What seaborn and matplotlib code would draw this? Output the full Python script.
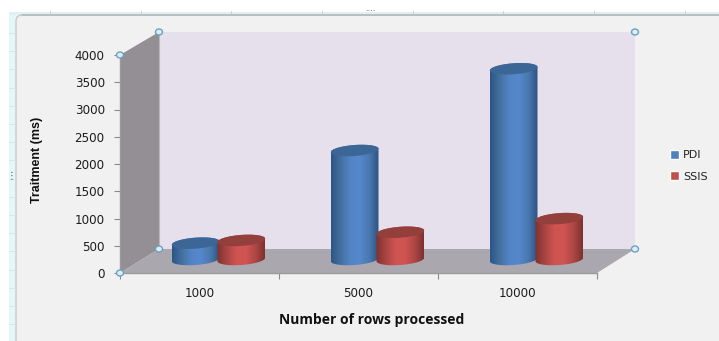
import matplotlib
matplotlib.use("Agg")
import matplotlib.pyplot as plt
import numpy as np
import pandas as pd
import seaborn as sns
from matplotlib.colors import LinearSegmentedColormap
from matplotlib.patches import FancyBboxPatch, Polygon, Ellipse, Rectangle

# Measurements
row_counts = ["1000", "5000", "10000"]
pdi_ms = [300, 2000, 3500]
ssis_ms = [350, 500, 750]
y_ticks = [0, 500, 1000, 1500, 2000, 2500, 3000, 3500, 4000]

W, H = 719, 341
BLUE = "#4f81bd"
RED = "#c0504d"
sns.set_theme(style="white", rc={"axes.grid": False})
plt.rcParams["font.family"] = ["DejaVu Sans"]

df = pd.DataFrame({
    "rows": row_counts * 2,
    "tool": ["PDI"] * 3 + ["SSIS"] * 3,
    "ms": pdi_ms + ssis_ms,
})

fig = plt.figure(figsize=(W / 100, H / 100), dpi=100, facecolor="white")


def axes_px(x0, y_top, x1, y_bottom, **kw):
    return fig.add_axes([x0 / W, 1 - y_bottom / H, (x1 - x0) / W, (y_bottom - y_top) / H], **kw)


# Worksheet backdrop and the 3D box walls, laid out in pixel units
bg = axes_px(0, 0, W, H, zorder=0)
bg.set_xlim(0, W)
bg.set_ylim(H, 0)
bg.axis("off")
bg.add_patch(Rectangle((9, 13), 8, H, fc="#e3f6fa", ec="none"))
bg.add_patch(Rectangle((9, 12), W, 3, fc="#dff1f5", ec="none"))
for x in (50, 141, 231, 322, 413, 503, 594, 685):
    bg.plot([x, x], [11, 14], color="#c9d4d6", lw=0.7)
for y in np.arange(33, H, 18.2):
    bg.plot([9, 15], [y, y], color="#d3e4e8", lw=0.6)
bg.add_patch(FancyBboxPatch((16, 15), W + 30, H + 30, boxstyle="round,pad=0,rounding_size=6",
                            fc="#f1f1f1", ec="#c6cacb", lw=1.0))
bg.plot([22, W], [14.8, 14.8], color="#b3b7b8", lw=1.1)
bg.add_patch(Rectangle((159, 32), 476, 217, fc="#e6e0ec", ec="none"))
bg.add_patch(Polygon([(120, 55), (159, 32), (159, 249), (120, 273)], fc="#938f94", ec="none"))
bg.add_patch(Polygon([(120, 273), (159, 249), (635, 249), (597, 273)], fc="#aba7af", ec="none"))
bg.plot([159, 159], [32, 249], color="#b9b5bb", lw=0.8)
bg.text(370, 11.5, "····", ha="center", va="center", fontsize=6, color="#555555")
bg.text(11.5, 176, "⋮", ha="center", va="center", fontsize=7, color="#555555")

# Front axes: ticks, tick labels and axis titles
front = axes_px(120, 55, 597, 273, zorder=1)
front.patch.set_alpha(0)
front.set_xlim(-0.5, 2.5)
front.set_ylim(0, 4000)
front.set_yticks(y_ticks)
front.set_xticks(range(3))
front.set_xticklabels(row_counts)
front.set_xticks([-0.5, 0.5, 1.5, 2.5], minor=True)
front.tick_params(axis="y", length=4, width=0.8, color="#8c8c8c", pad=7,
                  labelsize=8.6, labelcolor="#1c1c1c", left=True)
front.tick_params(axis="x", which="major", length=0, pad=10, labelsize=8.6, labelcolor="#1c1c1c")
front.tick_params(axis="x", which="minor", length=4, width=0.8, color="#8c8c8c", bottom=True)
for side in ("top", "right"):
    front.spines[side].set_visible(False)
for side in ("left", "bottom"):
    front.spines[side].set_color("#9a9a9a")
    front.spines[side].set_linewidth(1.0)
front.set_xlabel("Number of rows processed", family="Open Sans", weight="bold",
                 color="#111111", fontsize=10.0)
front.xaxis.set_label_coords((372 - 120) / 477, -(320 - 273) / 218, transform=front.transAxes)
front.xaxis.label.set_va("center")
front.set_ylabel("Traitment (ms)", family="Liberation Sans", weight="bold",
                 color="#111111", fontsize=9.0)
front.yaxis.set_label_coords((37 - 120) / 477, (273 - 160) / 218, transform=front.transAxes)
front.yaxis.label.set_va("center")

# Bars stand partway into the box, so their axes sit up and to the right of the front edge
ax = axes_px(140, 41.5, 617, 259.5, zorder=2)
ax.patch.set_alpha(0)
sns.barplot(data=df, x="rows", y="ms", hue="tool", order=row_counts, hue_order=["PDI", "SSIS"],
            palette=[BLUE, RED], width=0.6, gap=0, saturation=1, errorbar=None, ax=ax)
ax.set_xlim(-0.5, 2.5)
ax.set_ylim(0, 4000)
sns.move_legend(ax, "upper left", bbox_to_anchor=(670 / W, 1 - 150 / H),
                bbox_transform=fig.transFigure, title=None, frameon=False,
                fontsize=8, handlelength=0.85, handleheight=0.85, handletextpad=0.3,
                labelspacing=1.0, borderpad=0, borderaxespad=0, labelcolor="#222222")
ax.axis("off")

cmaps = {
    0: LinearSegmentedColormap.from_list("b", ["#2c5585", "#44709f", "#5284c6", "#5588cc", "#4a78b0", "#2c5382"]),
    1: LinearSegmentedColormap.from_list("r", ["#7d3230", "#a94442", "#cf5351", "#d05452", "#b04745", "#7c3230"]),
}
caps = {0: "#3c6696", 1: "#93403d"}
px_y = 4000 / 218  # data units per pixel, vertically
px_x = 3 / 477     # data units per pixel, horizontally
ramp = np.linspace(0, 1, 128).reshape(1, -1)
t = np.linspace(0, np.pi, 40)

for idx, container in enumerate(ax.containers):
    for rect in container:
        # The second cylinder of each pair overlaps the first by a couple of pixels
        x0 = rect.get_x() - idx * 2 * px_x
        w, h = rect.get_width(), rect.get_height()
        rect.set_visible(False)
        xc = x0 + w / 2
        ry = 5.5 * px_y
        tilt = 1.7 * px_y  # caps lean up towards the right

        def arc(base, angles):
            xs = xc + w / 2 * np.cos(angles)
            ys = base + ry * np.sin(angles) + tilt * np.cos(angles)
            return np.column_stack([xs, ys])

        # Body silhouette: lower edge of the top cap down to the lower edge of the base
        body = np.vstack([arc(h, t), arc(0, t + np.pi)])
        im = ax.imshow(ramp, extent=(x0, x0 + w, -ry * 2, h + ry * 2), cmap=cmaps[idx],
                       aspect="auto", zorder=3 + idx, interpolation="bilinear")
        clip = Polygon(body, closed=True, transform=ax.transData, fc="none", ec="none", clip_on=False)
        ax.add_patch(clip)
        im.set_clip_box(fig.bbox)
        im.set_clip_path(clip)
        cap = Polygon(np.vstack([arc(h, t), arc(h, t + np.pi)]), closed=True,
                      fc=caps[idx], ec="none", zorder=3.5 + idx, clip_on=False)
        ax.add_patch(cap)
ax.set_xlim(-0.5, 2.5)
ax.set_ylim(0, 4000)

# Selection handles on the corners of the box
top = axes_px(0, 0, W, H, zorder=3)
top.set_xlim(0, W)
top.set_ylim(H, 0)
top.axis("off")
for (x, y) in [(120, 55), (159, 32), (635, 32), (159, 249), (635, 249), (120, 273)]:
    top.add_patch(Ellipse((x, y), 7, 6, fc="#d8eef5", ec="#6f9fc0", lw=1.0))

fig.savefig("out.png", dpi=100, facecolor="white")
